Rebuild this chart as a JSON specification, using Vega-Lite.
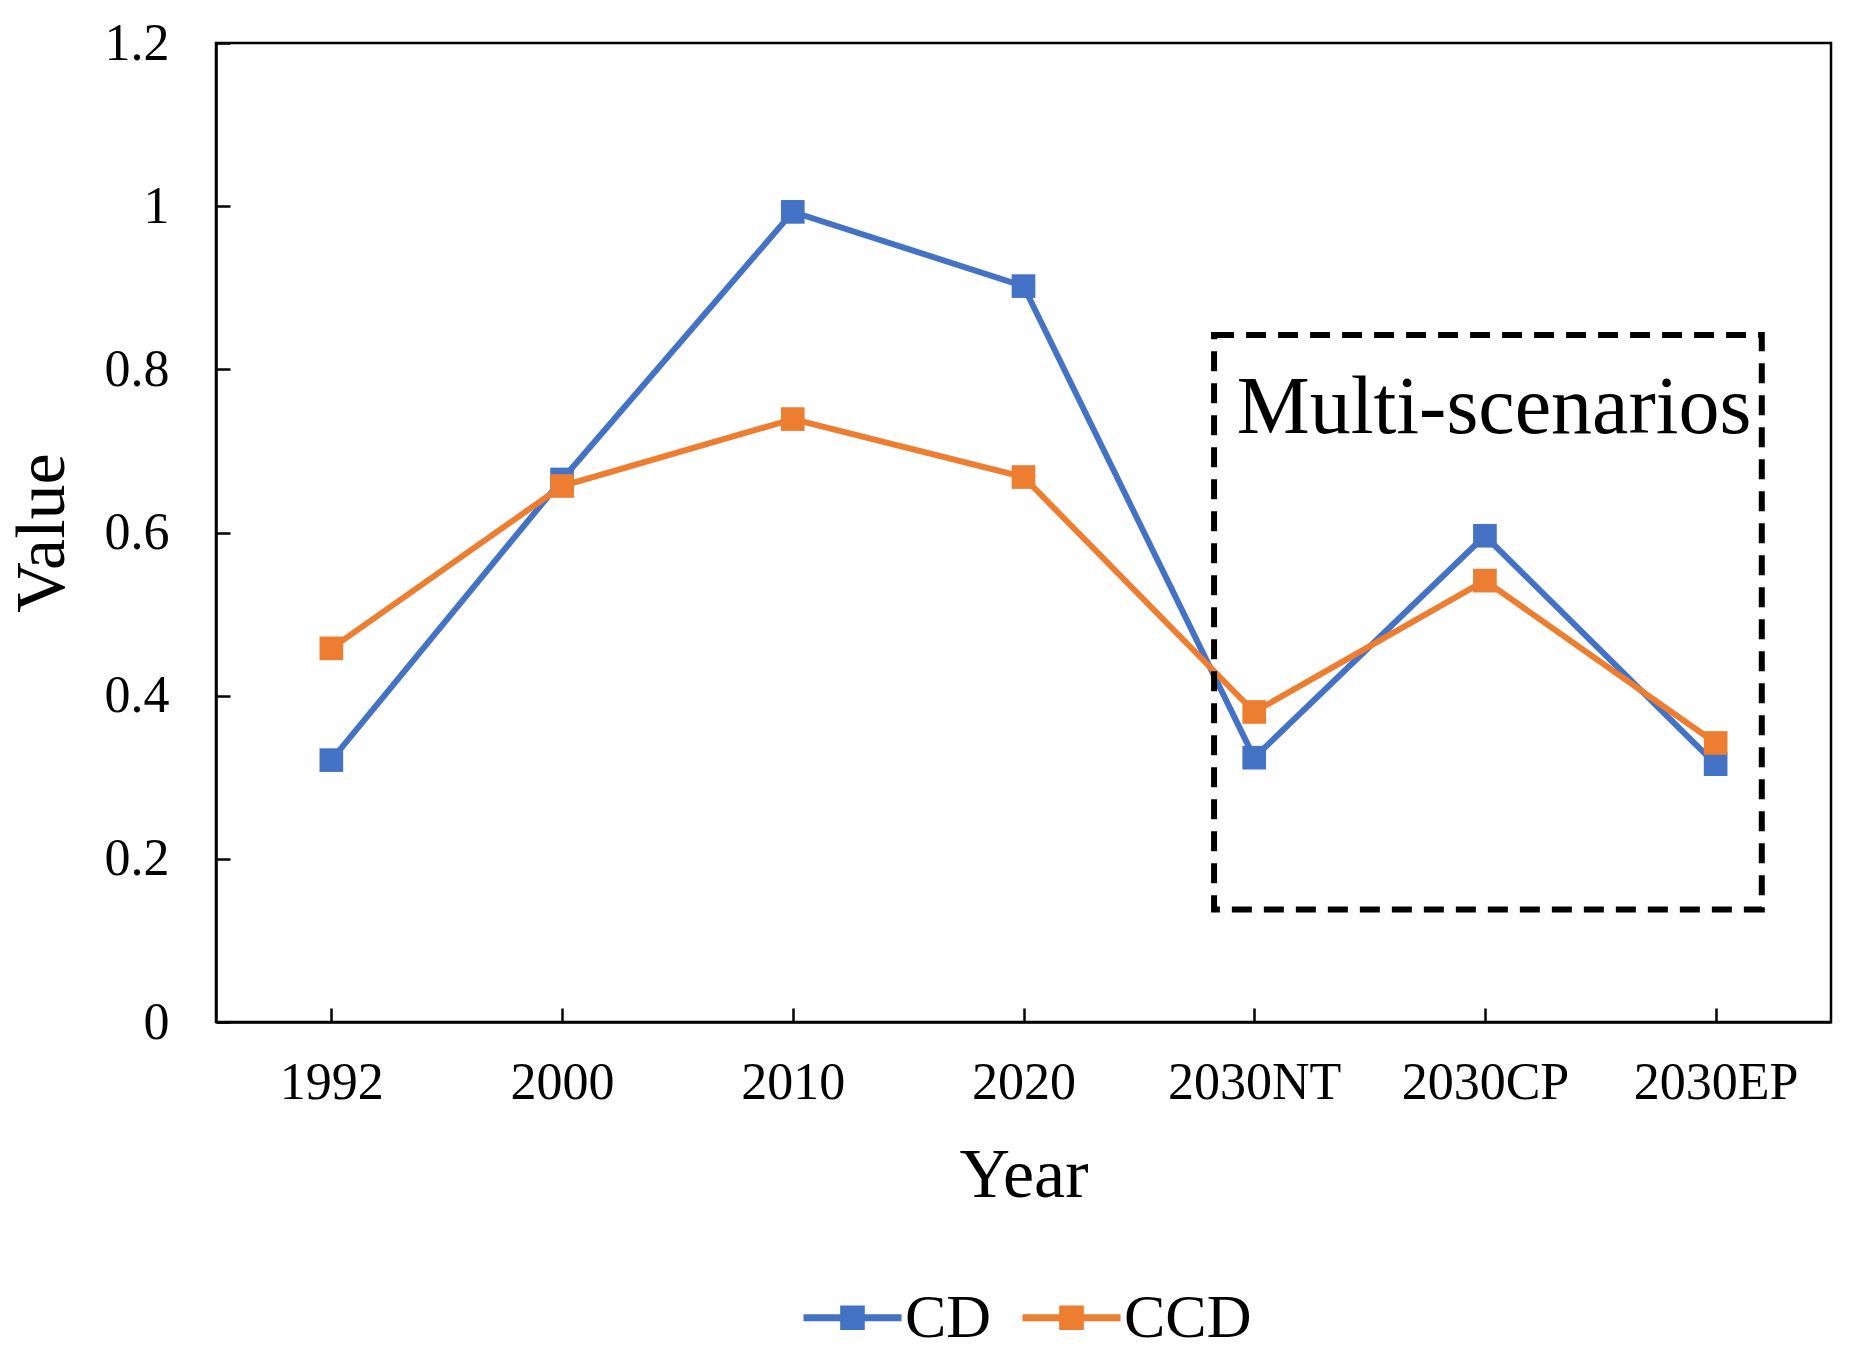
{
  "$schema": "https://vega.github.io/schema/vega-lite/v6.json",
  "width": 1615,
  "height": 979,
  "autosize": "none",
  "padding": {"left": 216, "top": 43, "right": 28, "bottom": 342},
  "background": "white",
  "config": {
    "font": "Liberation Serif",
    "view": {"stroke": "black", "strokeWidth": 2.5},
    "axis": {
      "grid": false,
      "domainColor": "black",
      "domainWidth": 2.5,
      "tickColor": "black",
      "tickWidth": 2.5,
      "tickSize": -14,
      "labelColor": "black",
      "labelFontSize": 52,
      "labelFont": "Liberation Serif",
      "titleFont": "Liberation Serif",
      "titleFontSize": 70,
      "titleFontWeight": "normal",
      "titleColor": "black"
    }
  },
  "layer": [
    {
      "data": {
        "values": [
          {"year": "1992", "series": "CD", "value": 0.321},
          {"year": "2000", "series": "CD", "value": 0.665},
          {"year": "2010", "series": "CD", "value": 0.993},
          {"year": "2020", "series": "CD", "value": 0.902},
          {"year": "2030NT", "series": "CD", "value": 0.324},
          {"year": "2030CP", "series": "CD", "value": 0.596},
          {"year": "2030EP", "series": "CD", "value": 0.316},
          {"year": "1992", "series": "CCD", "value": 0.458},
          {"year": "2000", "series": "CCD", "value": 0.657},
          {"year": "2010", "series": "CCD", "value": 0.739},
          {"year": "2020", "series": "CCD", "value": 0.668},
          {"year": "2030NT", "series": "CCD", "value": 0.38},
          {"year": "2030CP", "series": "CCD", "value": 0.541},
          {"year": "2030EP", "series": "CCD", "value": 0.342}
        ]
      },
      "encoding": {
        "x": {
          "field": "year",
          "type": "ordinal",
          "sort": ["1992", "2000", "2010", "2020", "2030NT", "2030CP", "2030EP"],
          "scale": {"type": "point", "padding": 0.5},
          "axis": {"title": "Year", "labelAngle": 0, "labelPadding": 49, "titlePadding": 33}
        },
        "y": {
          "field": "value",
          "type": "quantitative",
          "scale": {"domain": [0, 1.2], "nice": false},
          "axis": {"title": "Value", "values": [0, 0.2, 0.4, 0.6, 0.8, 1, 1.2], "format": "~g", "labelPadding": 61, "titlePadding": 26}
        },
        "color": {
          "field": "series",
          "type": "nominal",
          "scale": {"domain": ["CD", "CCD"], "range": ["#4472C4", "#ED7D31"]},
          "legend": {
            "title": null,
            "orient": "none",
            "legendX": 584,
            "legendY": 1222,
            "direction": "horizontal",
            "labelFontSize": 62,
            "labelFont": "Liberation Serif",
            "labelColor": "black",
            "labelOffset": 0,
            "columnPadding": 16,
            "symbolType": "M-1,0H1M-0.18,-0.18H0.18V0.18H-0.18Z",
            "symbolSize": 9604,
            "symbolStrokeWidth": 7,
            "encode": {
              "symbols": {
                "update": {
                  "fill": {"scale": "color", "field": "value"},
                  "stroke": {"scale": "color", "field": "value"},
                  "opacity": {"value": 1}
                }
              }
            }
          }
        }
      },
      "layer": [
        {"mark": {"type": "line", "strokeWidth": 6}},
        {"mark": {"type": "point", "shape": "square", "filled": true, "opacity": 1, "size": 560}}
      ]
    },
    {
      "data": {
        "values": [
          {"x1": 4.326, "x2": 6.7, "y1": 0.138, "y2": 0.842, "label": "Multi-scenarios", "tx": 5.54, "ty": 0.752}
        ]
      },
      "layer": [
        {
          "mark": {"type": "rect", "fill": "transparent", "stroke": "black", "strokeWidth": 6, "strokeDash": [20, 12]},
          "encoding": {
            "x": {"field": "x1", "type": "quantitative", "scale": {"domain": [0, 7], "nice": false, "zero": false}, "axis": null},
            "x2": {"field": "x2"},
            "y": {"field": "y1", "type": "quantitative", "axis": {"title": "Value", "values": [0, 0.2, 0.4, 0.6, 0.8, 1, 1.2], "format": "~g", "labelPadding": 61, "titlePadding": 26}},
            "y2": {"field": "y2"}
          }
        },
        {
          "mark": {"type": "text", "fontSize": 82, "font": "Liberation Serif", "color": "black", "baseline": "middle", "align": "center"},
          "encoding": {
            "x": {"field": "tx", "type": "quantitative", "scale": {"domain": [0, 7], "nice": false, "zero": false}, "axis": null},
            "y": {"field": "ty", "type": "quantitative", "axis": {"title": "Value", "values": [0, 0.2, 0.4, 0.6, 0.8, 1, 1.2], "format": "~g", "labelPadding": 61, "titlePadding": 26}},
            "text": {"field": "label"}
          }
        }
      ]
    }
  ],
  "resolve": {"scale": {"x": "independent"}}
}
